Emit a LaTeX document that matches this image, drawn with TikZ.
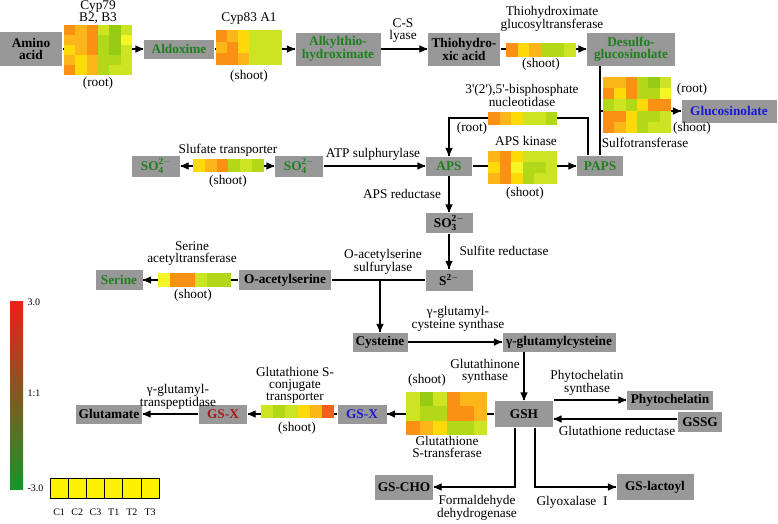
\documentclass[tikz,border=0pt]{standalone}
\usepackage{fontspec}
\setmainfont{Liberation Serif}
\usetikzlibrary{calc,arrows.meta,decorations.markings}
\tikzset{->/.style = {decoration={markings, mark=at position 1 with {\arrow{Triangle[length=8pt,width=7pt]}}}, postaction={decorate}}}
\tikzset{<->/.style = {decoration={markings, mark=at position 0 with {\arrowreversed{Triangle[length=8pt,width=7pt]}}, mark=at position 1 with {\arrow{Triangle[length=8pt,width=7pt]}}}, postaction={decorate}}}
\definecolor{boxgray}{RGB}{152,152,152}
\definecolor{lgreen}{RGB}{30,128,30}
\definecolor{lblue}{RGB}{25,25,215}
\definecolor{lred}{RGB}{165,25,25}
\definecolor{cR}{RGB}{242,95,25}
\definecolor{cO}{RGB}{250,145,20}
\definecolor{cLO}{RGB}{252,182,25}
\definecolor{cY}{RGB}{255,218,10}
\definecolor{cYY}{RGB}{245,245,40}
\definecolor{cYG}{RGB}{205,228,35}
\definecolor{cLG}{RGB}{178,216,25}
\definecolor{cG}{RGB}{150,205,20}
\definecolor{barred}{RGB}{240,30,20}
\definecolor{bargreen}{RGB}{20,150,40}
\tikzset{box/.style = {fill=boxgray, inner sep=0pt, align=center, font=\fontsize{13.3}{12}\selectfont\bfseries},
         lbl/.style = {inner sep=0pt, align=center, font=\fontsize{13.3}{12}\selectfont},
         gtext/.style = {text=lgreen}, btext/.style = {text=lblue}, rtext/.style = {text=lred}}
% heat map: name, north west corner, cell width, cell height, rows of colours
\newcommand{\heatmap}[5]{%
  \coordinate (#1) at #2;
  \foreach \hrow [count=\r from 0] in {#5}{%
    \foreach \hc [count=\k from 0] in \hrow{%
      \fill[\hc] ($(#1)+(\k*#3,\r*#4)$) rectangle ++(#3,#4);
    }
  }
}
\newcommand{\ion}[2]{$\mathbf{#1}_{\mathbf{#2}}^{\mathbf{2-}}$}
\begin{document}
\begin{tikzpicture}[x=1pt,y=-1pt,line width=1.3pt]
\useasboundingbox (0,0) rectangle (778,523);
% compounds
\node[box, minimum width=62pt, minimum height=34pt] (amino) at (31,49) {Amino\\acid};
\node[box, gtext, minimum width=70pt, minimum height=19pt] (aldox) at (179,49) {Aldoxime};
\node[box, gtext, minimum width=85pt, minimum height=33pt] (alkyl) at (338,49) {Alkylthio-\\hydroximate};
\node[box, minimum width=72pt, minimum height=33pt] (thio) at (464,49) {Thiohydro-\\xic acid};
\node[box, gtext, minimum width=88pt, minimum height=33pt] (desulfo) at (631,49) {Desulfo-\\glucosinolate};
\node[box, btext, minimum width=95pt, minimum height=23pt] (glucos) at (729,111) {Glucosinolate};
\node[box, gtext, minimum width=48pt, minimum height=21pt] (so4l) at (156,166) {\ion{SO}{4}};
\node[box, gtext, minimum width=48pt, minimum height=21pt] (so4r) at (299,166) {\ion{SO}{4}};
\node[box, gtext, minimum width=46pt, minimum height=19pt] (aps) at (449,166) {APS};
\node[box, gtext, minimum width=46pt, minimum height=20pt] (paps) at (600,166) {PAPS};
\node[box, minimum width=47pt, minimum height=20pt] (so3) at (449,223) {\ion{SO}{3}};
\node[box, minimum width=47pt, minimum height=21pt] (s) at (449,280) {$\mathbf{S}^{\mathbf{2-}}$};
\node[box, minimum width=92pt, minimum height=20pt] (oas) at (285,280) {O-acetylserine};
\node[box, gtext, minimum width=47pt, minimum height=20pt] (serine) at (119,280) {Serine};
\node[box, minimum width=55pt, minimum height=19pt] (cys) at (380,342) {Cysteine};
\node[box, minimum width=113pt, minimum height=19pt] (gglu) at (559,342) {γ-glutamylcysteine};
\node[box, minimum width=58pt, minimum height=26pt] (gsh) at (524,414) {GSH};
\node[box, btext, minimum width=49pt, minimum height=19pt] (gsxb) at (362,414) {GS-X};
\node[box, rtext, minimum width=48pt, minimum height=19pt] (gsxr) at (223,414) {GS-X};
\node[box, minimum width=66pt, minimum height=19pt] (glut) at (109,414) {Glutamate};
\node[box, minimum width=86pt, minimum height=19pt] (phyto) at (670,400) {Phytochelatin};
\node[box, minimum width=44pt, minimum height=20pt] (gssg) at (700,422) {GSSG};
\node[box, minimum width=58pt, minimum height=25pt] (gscho) at (404,487) {GS-CHO};
\node[box, minimum width=77pt, minimum height=26pt] (gslac) at (655,487) {GS-lactoyl};
\coordinate (nucmid) at (520,118);
% reactions
\draw [->] (amino) -- (aldox);
\draw [->] (aldox) -- (alkyl);
\draw [->] (alkyl) -- (thio);
\draw [->] (thio) -- (desulfo);
\draw (paps.north) -- (paps.north |- desulfo.south);
\draw [->] (paps.north |- glucos.west) -- (glucos.west);
\draw [->] ([xshift=-12pt]paps.north) |- (nucmid) -| (aps.north);
\draw [<->] (so4l) -- (so4r);
\draw [->] (so4r) -- (aps);
\draw [->] (aps) -- (paps);
\draw [->] (aps) -- (so3);
\draw [->] (so3) -- (s);
\draw (s) -- (oas);
\draw [->] (cys.north |- s) -- (cys);
\draw [->] (oas) -- (serine);
\draw [->] (cys) -- (gglu);
\draw [->] (gsh.north |- gglu.south) -- (gsh.north);
\draw [->] (gsh) -- (gsxb);
\draw [->] (gsxb) -- (gsxr);
\draw [->] (gsxr) -- (glut);
\draw [->] (gsh.east |- phyto.west) -- (phyto.west);
\draw [->] ([yshift=3pt]gssg.west) -- ([yshift=3pt]gssg.west -| gsh.east);
\draw [->] ([xshift=-9pt]gsh.south) |- (gscho);
\draw [->] ([xshift=11pt]gsh.south) |- (gslac);
% heat maps
\heatmap{hmCyp}{(64,25)}{11.33}{10}{{cO,cLO,cO,cYG,cG,cYG},{cLO,cLO,cO,cLG,cG,cYY},{cY,cLO,cO,cLG,cG,cYG},{cLO,cY,cLO,cLG,cLG,cYG},{cO,cY,cLO,cLG,cYG,cYG}}
\heatmap{hmCypA}{(216,30)}{11}{11.67}{{cO,cLO,cY,cYG,cYG,cYG},{cLO,cO,cY,cYG,cYG,cYG},{cO,cO,cLO,cYG,cYG,cYG}}
\heatmap{hmTGT}{(506,43)}{11.67}{14}{{cO,cY,cLO,cLG,cLG,cYG}}
\heatmap{hmSOT}{(603,77)}{11.33}{11.2}{{cLO,cLO,cO,cLG,cG,cYG},{cO,cY,cO,cLG,cLG,cYY},{cLG,cYG,cLG,cY,cO,cO},{cO,cO,cY,cLG,cLG,cYG},{cO,cLO,cY,cLG,cYG,cYG}}
\heatmap{hmNuc}{(488,112)}{11.5}{13}{{cO,cLO,cY,cYG,cYG,cLG}}
\heatmap{hmAPSK}{(488,151)}{11.5}{11}{{cLO,cO,cY,cYG,cYG,cYG},{cY,cO,cYY,cLG,cLG,cYG},{cLO,cO,cY,cLG,cYG,cYG}}
\heatmap{hmSultr}{(193,159)}{11.83}{13}{{cY,cLO,cO,cLG,cYG,cLG}}
\heatmap{hmSAT}{(158,273)}{12.17}{14}{{cYY,cO,cO,cYG,cLG,cLG}}
\heatmap{hmGSCT}{(261,405)}{12.17}{13}{{cYG,cLG,cYG,cY,cLO,cR}}
\heatmap{hmGST}{(406,392)}{13.5}{14.33}{{cYG,cG,cYG,cO,cLO,cLO},{cYG,cLG,cLG,cO,cO,cLO},{cO,cLO,cY,cLG,cLG,cYG}}
% enzyme labels
\node[lbl] (lCyp) at (98,12) {Cyp79\\B2, B3};
\node[lbl] (lCypT) at (98,83) {(root)};
\node[lbl] (lCypA) at (249,19) {Cyp83 A1};
\node[lbl] (lCypAT) at (249,76) {(shoot)};
\node[lbl] (lCS) at (403,31) {C-S\\lyase};
\node[lbl] (lTGT) at (552,19) {Thiohydroximate\\glucosyltransferase};
\node[lbl] (lTGTT) at (541,64) {(shoot)};
\node[lbl] (lSOTr) at (692,89) {(root)};
\node[lbl] (lSOTs) at (692,128) {(shoot)};
\node[lbl] (lSOT) at (645,143) {Sulfotransferase};
\node[lbl] (lNuc) at (522,95) {3\textquotesingle(2\textquotesingle),5\textquotesingle-bisphosphate\\nucleotidase};
\node[lbl] (lNucT) at (472,128) {(root)};
\node[lbl] (lAPSK) at (526,141) {APS kinase};
\node[lbl] (lAPSKT) at (525,193) {(shoot)};
\node[lbl] (lSultr) at (228,150) {Slufate transporter};
\node[lbl] (lSultrT) at (228,181) {(shoot)};
\node[lbl] (lATP) at (373,154) {ATP sulphurylase};
\node[lbl] (lAPR) at (402,194) {APS reductase};
\node[lbl] (lSiR) at (504,251) {Sulfite reductase};
\node[lbl] (lOASTL) at (383,262) {O-acetylserine\\sulfurylase};
\node[lbl] (lSAT) at (192,254) {Serine\\acetyltransferase};
\node[lbl] (lSATT) at (193,295) {(shoot)};
\node[lbl] (lGCS) at (458,319) {γ-glutamyl-\\cysteine synthase};
\node[lbl] (lGSHS) at (485,371) {Glutathinone\\synthase};
\node[lbl] (lGSTT) at (427,380) {(shoot)};
\node[lbl] (lGST) at (447,447) {Glutathione\\S-transferase};
\node[lbl] (lGSCT) at (295,385) {Glutathione S-\\conjugate\\transporter};
\node[lbl] (lGSCTT) at (297,428) {(shoot)};
\node[lbl] (lGGT) at (178,397) {γ-glutamyl-\\transpeptidase};
\node[lbl] (lPCS) at (587,383) {Phytochelatin\\synthase};
\node[lbl] (lGR) at (617,431) {Glutathione reductase};
\node[lbl] (lFALDH) at (477,508) {Formaldehyde\\dehydrogenase};
\node[lbl] (lGLX) at (572,502) {Glyoxalase\enspace I};
% legend
\shade[top color=barred, middle color=yellow, bottom color=bargreen] (10,301) rectangle (23,489);
\node[lbl, anchor=west, font=\fontsize{10}{10}\selectfont] (lmax) at (27,302) {3.0};
\node[lbl, anchor=west, font=\fontsize{10}{10}\selectfont] (lmid) at (27,393) {1:1};
\node[lbl, anchor=west, font=\fontsize{10}{10}\selectfont] (lmin) at (27,488) {-3.0};
\foreach \smp [count=\i from 0] in {C1,C2,C3,T1,T2,T3}{
  \draw[fill=yellow, line width=0.8pt] (50+\i*18.2,478) rectangle ++(18.2,20);
  \node[lbl, font=\fontsize{10}{10}\selectfont] (leg\smp) at (59.1+\i*18.2,512) {\smp};
}
\end{tikzpicture}
\end{document}
